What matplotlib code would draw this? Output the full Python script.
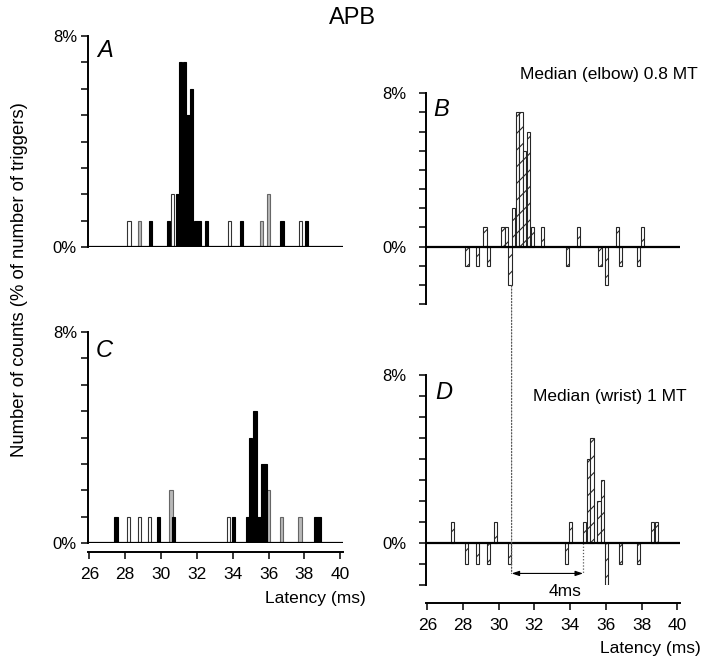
import matplotlib
matplotlib.use('Agg')
import matplotlib.pyplot as plt
import numpy as np
from matplotlib.patches import ConnectionPatch

# latency (ms) and counts (% of triggers)
# A: elbow stimulation, raw histogram
a_dark_lat = [29.40, 30.41, 30.92, 31.10, 31.30, 31.50, 31.70, 31.91, 32.12, 32.52, 34.48, 36.75, 38.10]
a_dark_pct = [1, 1, 2, 7, 7, 5, 6, 1, 1, 1, 1, 1, 1]
a_open_lat = [28.22, 30.62, 33.81, 37.77]
a_open_pct = [1, 2, 1, 1]
a_grey_lat = [28.79, 35.60, 36.00]
a_grey_pct = [1, 1, 2]

# B: elbow, difference histogram
b_lat = [28.22, 28.82, 29.23, 29.43, 30.24, 30.44, 30.63, 30.83, 31.04, 31.24, 31.45,
         31.66, 31.88, 32.46, 33.86, 34.47, 35.67, 36.04, 36.66, 36.83, 37.83, 38.04]
b_pct = [-1, -1, 1, -1, 1, 1, -2, 2, 7, 7, 5, 6, 1, 1, -1, 1, -1, -2, 1, -1, -1, 1]

# C: wrist stimulation, raw histogram
c_dark_lat = [27.49, 29.88, 30.70, 34.05, 34.83, 35.01, 35.24, 35.46, 35.65, 35.83, 38.64, 38.83]
c_dark_pct = [1, 1, 1, 1, 1, 4, 5, 1, 3, 3, 1, 1]
c_open_lat = [28.17, 28.79, 29.36, 33.75]
c_open_pct = [1, 1, 1, 1]
c_grey_lat = [30.55, 35.98, 36.72, 37.75]
c_grey_pct = [2, 2, 1, 1]

# D: wrist, difference histogram
d_lat = [27.40, 28.20, 28.80, 29.42, 29.83, 30.59, 33.80, 34.03, 34.81, 35.02, 35.22,
         35.61, 35.82, 36.04, 36.81, 37.83, 38.62, 38.82]
d_pct = [1, -1, -1, -1, 1, -1, -1, 1, 1, 4, 5, 2, 3, -2, -1, -1, 1, 1]

onset_elbow = 30.72
onset_wrist = 34.72

plt.rcParams['font.family'] = ['Liberation Sans', 'DejaVu Sans']
plt.rcParams['hatch.linewidth'] = 0.8

W, H = 708, 666
fig = plt.figure(figsize=(W / 100, H / 100), dpi=100)


def box(left, right, top, bottom):
    return [left / W, 1 - bottom / H, (right - left) / W, (bottom - top) / H]


XLIM = (25.927, 40.149)


def setup(ax, ylo, ypad, xaxis_offset=None):
    ax.set_xlim(*XLIM)
    ax.set_ylim(ylo, 8)
    ax.patch.set_visible(False)
    for s in ['top', 'right']:
        ax.spines[s].set_visible(False)
    ax.spines['left'].set_linewidth(1.4)
    ticks = np.arange(ylo, 9)
    ax.set_yticks(ticks)
    ax.set_yticklabels(['8%' if t == 8 else '0%' if t == 0 else '' for t in ticks])
    ax.tick_params(axis='y', direction='out', length=5, width=1.1, labelsize=12, pad=ypad)
    ax.axhline(0, color='black', lw=1.6, zorder=4)
    if xaxis_offset is None:
        ax.spines['bottom'].set_visible(False)
        ax.set_xticks([])
    else:
        ax.spines['bottom'].set_position(('outward', xaxis_offset))
        ax.spines['bottom'].set_linewidth(1.4)
        ax.set_xticks(np.arange(26, 41, 2))
        ax.tick_params(axis='x', direction='out', length=5, width=1.1, labelsize=12.5, pad=6)


axA = fig.add_axes(box(88, 343, 36, 247))
axC = fig.add_axes(box(88, 343, 332, 543))
axB = fig.add_axes(box(426, 680, 93.3, 304))
axD = fig.add_axes(box(426, 680, 374.7, 585))

setup(axA, 0, 3)
setup(axC, 0, 3, xaxis_offset=6.5)
setup(axB, -3, 9)
setup(axD, -2, 9, xaxis_offset=13)

bw = 0.18
for ax, dk, dp, ol, op, gl, gp in [
        (axA, a_dark_lat, a_dark_pct, a_open_lat, a_open_pct, a_grey_lat, a_grey_pct),
        (axC, c_dark_lat, c_dark_pct, c_open_lat, c_open_pct, c_grey_lat, c_grey_pct)]:
    ax.bar(gl, gp, width=bw, color='0.72', edgecolor='0.4', lw=0.8, zorder=2)
    ax.bar(ol, op, width=bw, color='white', edgecolor='0.2', lw=0.8, zorder=2)
    ax.bar(dk, dp, width=bw, color='black', edgecolor='black', lw=0.8, zorder=3)

for ax, lat, pct in [(axB, b_lat, b_pct), (axD, d_lat, d_pct)]:
    ax.bar(lat, pct, width=0.19, color='white', edgecolor='0.15', lw=0.8,
           hatch='//', zorder=2)

# panel letters
for ax, letter, x, y in [(axA, 'A', 26.43, 7.45), (axB, 'B', 26.32, 7.14),
                         (axC, 'C', 26.37, 7.31), (axD, 'D', 26.43, 7.17)]:
    ax.text(x, y, letter, fontsize=17, style='italic', ha='left', va='center')

axB.text(41.16, 8.97, 'Median (elbow) 0.8 MT', fontsize=12.5, ha='right', va='center',
         clip_on=False)
axD.text(40.53, 6.94, 'Median (wrist) 1 MT', fontsize=12.5, ha='right', va='center')

# onset markers and latency shift
con = ConnectionPatch(xyA=(onset_elbow, -2.05), coordsA=axB.transData,
                      xyB=(onset_elbow, -1.45), coordsB=axD.transData,
                      linestyle=(0, (1, 1.5)), color='0.35', lw=0.9)
fig.add_artist(con)
axD.plot([onset_wrist, onset_wrist], [0, -1.45], linestyle=(0, (1, 1.5)), color='0.35', lw=0.9)
axD.annotate('', xy=(onset_elbow, -1.45), xytext=(onset_wrist, -1.45),
             arrowprops=dict(arrowstyle='<|-|>,head_length=0.45,head_width=0.15',
                             color='black', lw=0.8, shrinkA=0, shrinkB=0))
axD.text(33.71, -2.31, '4ms', fontsize=12.5, ha='center', va='center', clip_on=False)

fig.text(352.5 / W, 1 - 17.5 / H, 'APB', fontsize=17, ha='center', va='center')
fig.text(20 / W, 1 - 280 / H, 'Number of counts (% of number of triggers)', fontsize=13.3,
         rotation=90, ha='center', va='center')
fig.text(265 / W, 1 - 598 / H, 'Latency (ms)', fontsize=12.5, ha='left', va='center')
fig.text(600 / W, 1 - 649 / H, 'Latency (ms)', fontsize=12.5, ha='left', va='center')

fig.savefig('out.png', dpi=100)
